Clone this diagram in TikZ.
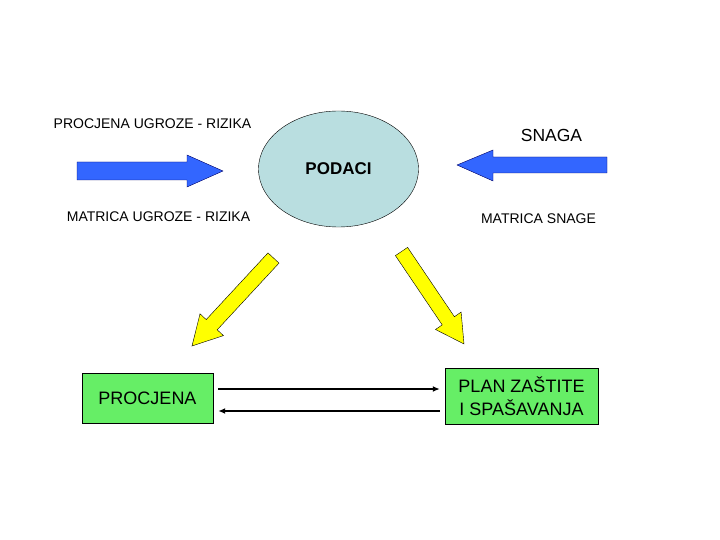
\documentclass[tikz,border=0pt]{standalone}
\usepackage{fontspec}
\setmainfont{Liberation Sans}
\usetikzlibrary{shapes.geometric, arrows.meta}
\definecolor{podacifill}{RGB}{185,222,224}
\definecolor{bluearrow}{RGB}{51,102,255}
\definecolor{yellowarrow}{RGB}{255,255,0}
\definecolor{boxgreen}{RGB}{102,238,102}

\begin{document}
\begin{tikzpicture}[
      x=1pt, y=-1pt,
      >={Latex[length=7pt,width=6pt]},
      label text/.style={anchor=base,font=\fontsize{14}{16}\selectfont},
      main node/.style={ellipse,draw,thin,fill=podacifill,minimum width=160,minimum height=116,font=\fontsize{17}{20}\selectfont\bfseries},
      result box/.style={draw,thin,fill=boxgreen,align=center,font=\fontsize{18}{23}\selectfont},
      blue block/.style={draw=black!60!blue,thin,fill=bluearrow},
      yellow block/.style={draw=black,thin,fill=yellowarrow},
      link/.style={->,line width=1.6pt}
      ]
      \useasboundingbox (0,0) rectangle (720,540);
      % data
      \node [main node] (podaci) at (338.5,169) {PODACI};
      % labels
      \foreach \n/\x/\y/\t in {pu/152.5/129/PROCJENA UGROZE - RIZIKA,mu/158.5/222/MATRICA UGROZE - RIZIKA,ms/538.5/224/MATRICA SNAGE} {
          \node [label text] (\n) at (\x,\y) {\t};
      }
      \node [label text,font=\fontsize{17.5}{20}\selectfont] (snaga) at (551.5,142) {SNAGA};
      % blue arrows
      \draw [blue block] (77,162) -- (187,162) -- (187,155) -- (223,171) -- (187,187) -- (187,180) -- (77,180) -- cycle;
      \draw [blue block] (607,157) -- (493,157) -- (493,150) -- (457,165) -- (493,181) -- (493,173) -- (607,173) -- cycle;
      % yellow arrows
      \draw [yellow block] (279,263.1) -- (217.2,329.8) -- (223.4,335.6) -- (192,346) -- (200,313.8) -- (206.2,319.6) -- (268,252.9) -- cycle;
      \draw [yellow block] (407.6,247.4) -- (454.4,316.7) -- (461.1,312.1) -- (464,344) -- (435.5,329.5) -- (442.2,324.9) -- (395.4,255.6) -- cycle;
      % results
      \node [result box,minimum width=131,minimum height=50] (procjena) at (147.5,398) {PROCJENA};
      \node [result box,minimum width=153,minimum height=56] (plan) at (521.5,396) {PLAN ZAŠTITE\\I SPAŠAVANJA};
      \draw [link] ([xshift=5,yshift=9]procjena.east) -- ([xshift=-5,yshift=9]procjena.east -| plan.west);
      \draw [link] ([xshift=-5,yshift=-13]procjena.east -| plan.west) -- ([xshift=5,yshift=-13]procjena.east);
    \end{tikzpicture}
\end{document}
